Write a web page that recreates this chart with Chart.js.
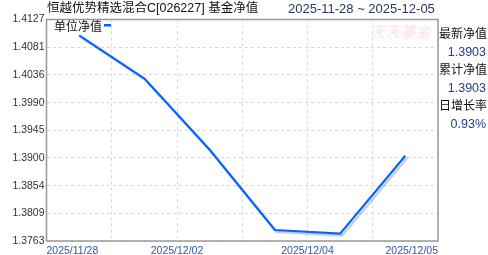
<!DOCTYPE html>
<html>
<head>
<meta charset="utf-8">
<script src="https://cdn.jsdelivr.net/npm/chart.js@4.4.1/dist/chart.umd.min.js"></script>
<style>
    body { margin: 0; background: #fff; }
    #wrap { width: 488px; height: 255px; }
</style>
</head>
<body>
<div id="wrap"><canvas id="navChart" width="488" height="255"></canvas></div>
<script>
        // Datos del gráfico
        const navDates = ['2025-11-28', '2025-12-01', '2025-12-02', '2025-12-03', '2025-12-04', '2025-12-05'];
        const navValues = [1.4101, 1.4030, 1.3913, 1.3781, 1.3775, 1.3903];
        const xTickLabels = ['2025/11/28', '', '2025/12/02', '', '2025/12/04', '', '2025/12/05'];
        const yTickLabels = ['1.3763', '1.3809', '1.3854', '1.3900', '1.3945', '1.3990', '1.4036', '1.4081', '1.4127'];
        const seriesName = '单位净值';
        const chartTitle = '恒越优势精选混合C[026227] 基金净值';
        const dateRange = '2025-11-28 ~ 2025-12-05';
        const sideInfo = [
            ['最新净值', '1.3903'],
            ['累计净值', '1.3903'],
            ['日增长率', '0.93%']
        ];

        const cjkFont = '"Liberation Sans", "Noto Sans CJK SC", sans-serif';

        // Sombra de la línea
        const shadowPlugin = {
            id: 'lineShadow',
            beforeDatasetsDraw(chart) {
                const ctx = chart.ctx;
                ctx.save();
                ctx.shadowColor = 'rgba(0, 0, 0, 0.22)';
                ctx.shadowOffsetX = 2;
                ctx.shadowOffsetY = 2;
                ctx.shadowBlur = 1;
            },
            afterDatasetsDraw(chart) {
                chart.ctx.restore();
            }
        };

        // Marco, títulos, leyenda y panel lateral
        const decorPlugin = {
            id: 'decor',
            beforeDatasetsDraw(chart) {
                const ctx = chart.ctx;
                const area = chart.chartArea;
                // marca de agua
                ctx.save();
                ctx.fillStyle = 'rgba(240, 130, 140, 0.2)';
                ctx.font = 'italic 15px "Noto Sans CJK SC", serif';
                ctx.textAlign = 'right';
                ctx.textBaseline = 'middle';
                ctx.fillText('天天基金', area.right - 8, 31);
                ctx.restore();
            },
            afterDraw(chart) {
                const ctx = chart.ctx;
                const area = chart.chartArea;
                ctx.save();

                // marco
                ctx.strokeStyle = '#999';
                ctx.lineWidth = 1.5;
                ctx.strokeRect(area.left, area.top, area.right - area.left, area.bottom - area.top);

                // título
                ctx.textBaseline = 'middle';
                ctx.textAlign = 'left';
                ctx.fillStyle = '#111';
                ctx.font = '12.5px ' + cjkFont;
                ctx.fillText(chartTitle, 47, 9);
                ctx.fillStyle = '#2a3566';
                ctx.font = '13px ' + cjkFont;
                ctx.fillText(dateRange, 288, 9);

                // leyenda
                ctx.fillStyle = '#111';
                ctx.font = '12px ' + cjkFont;
                ctx.fillText(seriesName, 54, 28);
                ctx.fillStyle = '#0066ff';
                ctx.fillRect(104, 24, 7, 2.5);

                // panel lateral
                let y = 35;
                sideInfo.forEach(function(item) {
                    ctx.textAlign = 'right';
                    ctx.fillStyle = '#111';
                    ctx.font = '12px ' + cjkFont;
                    ctx.fillText(item[0], 487, y);
                    ctx.fillStyle = '#24408e';
                    ctx.font = '12.5px "Liberation Sans", sans-serif';
                    ctx.fillText(item[1], 486, y + 18);
                    y += 36;
                });
                ctx.restore();
            }
        };

        const ctx = document.getElementById('navChart').getContext('2d');
        const navChart = new Chart(ctx, {
            type: 'line',
            data: {
                labels: navDates,
                datasets: [{
                    label: seriesName,
                    data: navValues.map(function(v, i) { return { x: i + 0.5, y: v }; }),
                    borderColor: '#0066ff',
                    borderWidth: 2.2,
                    pointRadius: 0,
                    tension: 0,
                    fill: false
                }]
            },
            options: {
                responsive: false,
                animation: false,
                layout: {
                    padding: { top: 19.5, right: 50, left: 0, bottom: 0 }
                },
                plugins: {
                    legend: { display: false },
                    tooltip: { enabled: false }
                },
                scales: {
                    x: {
                        type: 'linear',
                        min: 0,
                        max: xTickLabels.length - 1,
                        afterBuildTicks: function(scale) {
                            scale.ticks = xTickLabels.map(function(t, i) { return { value: i }; });
                        },
                        afterFit: function(scale) { scale.height = 14; },
                        grid: {
                            color: '#d8d8d8',
                            lineWidth: 1,
                            drawTicks: false
                        },
                        border: { display: false, dash: [3, 3] },
                        ticks: {
                            autoSkip: false,
                            maxRotation: 0,
                            align: 'inner',
                            padding: 4,
                            color: '#3355aa',
                            font: { size: 10.5, family: '"Liberation Sans", sans-serif' },
                            callback: function(value) {
                                return xTickLabels[value];
                            }
                        }
                    },
                    y: {
                        min: parseFloat(yTickLabels[0]),
                        max: parseFloat(yTickLabels[yTickLabels.length - 1]),
                        afterBuildTicks: function(scale) {
                            scale.ticks = yTickLabels.map(function(t) { return { value: parseFloat(t) }; });
                        },
                        afterFit: function(scale) { scale.width = 46.5; },
                        grid: {
                            color: '#d8d8d8',
                            lineWidth: 1,
                            drawTicks: false
                        },
                        border: { display: false, dash: [3, 3] },
                        ticks: {
                            padding: 2,
                            color: '#333',
                            font: { size: 10.5, family: '"Liberation Sans", sans-serif' },
                            callback: function(value) {
                                return value.toFixed(4);
                            }
                        }
                    }
                }
            },
            plugins: [shadowPlugin, decorPlugin]
        });
</script>
</body>
</html>
